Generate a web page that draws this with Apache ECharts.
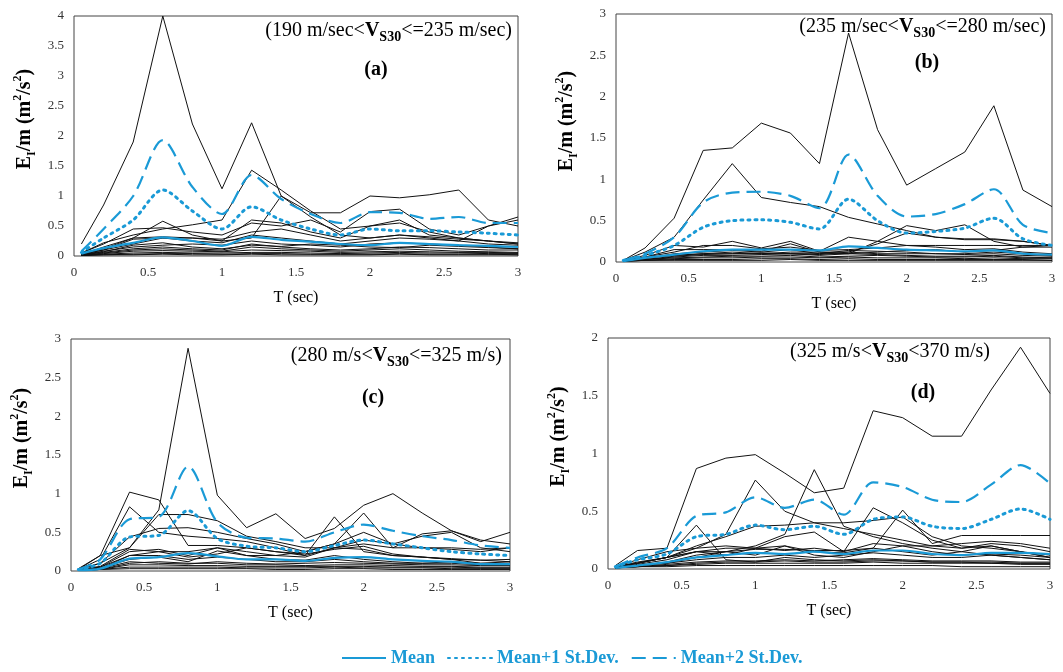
<!DOCTYPE html>
<html>
<head>
<meta charset="utf-8">
<script src="https://cdn.jsdelivr.net/npm/echarts@6/dist/echarts.min.js"></script>
<style>
  html, body { margin: 0; padding: 0; background: #fff; }
  #main { width: 1063px; height: 672px; }
</style>
</head>
<body>
<div id="main"></div>
<script>
// periods T (sec)
var periods = [0.05, 0.2, 0.4, 0.6, 0.8, 1.0, 1.2, 1.4, 1.6, 1.8, 2.0, 2.2, 2.4, 2.6, 2.8, 3.0];

// (a) 190 < Vs30 <= 235
var recordsA = [
    [0.2, 0.85, 1.9, 4.0, 2.2, 1.12, 2.22, 1.0, 0.72, 0.72, 1.0, 0.97, 1.02, 1.1, 0.6, 0.5],
    [0.05, 0.22, 0.35, 0.45, 0.52, 0.6, 1.43, 1.1, 0.75, 0.45, 0.5, 0.55, 0.4, 0.3, 0.25, 0.2],
    [0.03, 0.1, 0.2, 0.3, 0.3, 0.25, 0.3, 1.0, 0.65, 0.35, 0.3, 0.35, 0.3, 0.25, 0.5, 0.65],
    [0.02, 0.15, 0.3, 0.58, 0.35, 0.25, 0.6, 0.55, 0.4, 0.3, 0.5, 0.6, 0.35, 0.3, 0.25, 0.2],
    [0.05, 0.2, 0.45, 0.47, 0.4, 0.35, 0.55, 0.5, 0.6, 0.4, 0.74, 0.78, 0.45, 0.35, 0.5, 0.6],
    [0.02, 0.08, 0.15, 0.18, 0.2, 0.18, 0.25, 0.2, 0.18, 0.15, 0.2, 0.22, 0.2, 0.18, 0.15, 0.12],
    [0.01, 0.05, 0.1, 0.12, 0.1, 0.08, 0.15, 0.12, 0.1, 0.08, 0.1, 0.12, 0.1, 0.08, 0.07, 0.06],
    [0.01, 0.03, 0.05, 0.06, 0.05, 0.05, 0.06, 0.06, 0.05, 0.04, 0.05, 0.06, 0.05, 0.05, 0.04, 0.04],
    [0.03, 0.1, 0.28, 0.3, 0.25, 0.22, 0.35, 0.3, 0.25, 0.2, 0.25, 0.3, 0.28, 0.25, 0.2, 0.18],
    [0.01, 0.02, 0.03, 0.04, 0.04, 0.03, 0.04, 0.04, 0.03, 0.03, 0.03, 0.04, 0.03, 0.03, 0.03, 0.02],
    [0.02, 0.06, 0.12, 0.15, 0.12, 0.1, 0.2, 0.15, 0.12, 0.1, 0.12, 0.15, 0.14, 0.12, 0.1, 0.1],
    [0.01, 0.04, 0.08, 0.09, 0.08, 0.07, 0.1, 0.09, 0.08, 0.06, 0.07, 0.08, 0.07, 0.06, 0.06, 0.05],
    [0.02, 0.12, 0.3, 0.32, 0.3, 0.28, 0.4, 0.45, 0.35, 0.25, 0.3, 0.35, 0.32, 0.28, 0.25, 0.22],
    [0.01, 0.02, 0.02, 0.03, 0.02, 0.02, 0.03, 0.02, 0.02, 0.02, 0.02, 0.03, 0.02, 0.02, 0.02, 0.02],
    [0.02, 0.07, 0.18, 0.22, 0.15, 0.12, 0.18, 0.16, 0.2, 0.18, 0.15, 0.14, 0.18, 0.16, 0.14, 0.12]
];
var meanA = [0.04, 0.13, 0.22, 0.31, 0.25, 0.17, 0.32, 0.27, 0.24, 0.2, 0.18, 0.22, 0.2, 0.18, 0.17, 0.15];
var sd1A = [0.06, 0.3, 0.6, 1.1, 0.75, 0.45, 0.82, 0.6, 0.45, 0.35, 0.45, 0.42, 0.42, 0.4, 0.38, 0.35];
var sd2A = [0.08, 0.45, 1.0, 1.93, 1.15, 0.7, 1.35, 0.95, 0.7, 0.55, 0.73, 0.72, 0.62, 0.65, 0.55, 0.55];

// (b) 235 < Vs30 <= 280
var recordsB = [
    [0.02, 0.17, 0.53, 1.35, 1.38, 1.68, 1.56, 1.19, 2.77, 1.6, 0.93, 1.13, 1.33, 1.89, 0.87, 0.67],
    [0.02, 0.12, 0.3, 0.75, 1.19, 0.78, 0.72, 0.67, 0.54, 0.46, 0.38, 0.3, 0.27, 0.27, 0.25, 0.2],
    [0.02, 0.08, 0.2, 0.18, 0.25, 0.17, 0.25, 0.13, 0.3, 0.25, 0.2, 0.2, 0.2, 0.2, 0.2, 0.2],
    [0.01, 0.05, 0.08, 0.1, 0.1, 0.1, 0.1, 0.1, 0.1, 0.25, 0.44, 0.38, 0.45, 0.25, 0.18, 0.2],
    [0.01, 0.06, 0.15, 0.15, 0.15, 0.13, 0.22, 0.12, 0.12, 0.22, 0.35, 0.3, 0.28, 0.28, 0.25, 0.2],
    [0.01, 0.03, 0.06, 0.08, 0.08, 0.09, 0.1, 0.08, 0.1, 0.09, 0.08, 0.07, 0.07, 0.08, 0.06, 0.05],
    [0.01, 0.02, 0.04, 0.05, 0.05, 0.06, 0.06, 0.05, 0.06, 0.05, 0.05, 0.05, 0.04, 0.05, 0.04, 0.04],
    [0.01, 0.04, 0.1, 0.12, 0.14, 0.12, 0.15, 0.1, 0.14, 0.13, 0.12, 0.1, 0.1, 0.12, 0.1, 0.08],
    [0.01, 0.02, 0.03, 0.03, 0.03, 0.04, 0.04, 0.03, 0.04, 0.03, 0.03, 0.03, 0.03, 0.03, 0.03, 0.02],
    [0.02, 0.06, 0.12, 0.2, 0.2, 0.16, 0.18, 0.14, 0.15, 0.17, 0.2, 0.18, 0.15, 0.16, 0.12, 0.1],
    [0.01, 0.03, 0.05, 0.06, 0.07, 0.07, 0.08, 0.06, 0.07, 0.08, 0.07, 0.06, 0.06, 0.07, 0.05, 0.05],
    [0.01, 0.02, 0.02, 0.02, 0.02, 0.02, 0.03, 0.02, 0.02, 0.02, 0.02, 0.02, 0.02, 0.02, 0.02, 0.02],
    [0.01, 0.05, 0.08, 0.1, 0.12, 0.1, 0.12, 0.12, 0.1, 0.12, 0.14, 0.15, 0.12, 0.14, 0.18, 0.18],
    [0.01, 0.03, 0.07, 0.09, 0.1, 0.11, 0.1, 0.09, 0.12, 0.1, 0.1, 0.1, 0.09, 0.1, 0.08, 0.07]
];
var meanB = [0.01, 0.05, 0.09, 0.13, 0.15, 0.15, 0.15, 0.14, 0.19, 0.17, 0.15, 0.14, 0.13, 0.14, 0.1, 0.09];
var sd1B = [0.02, 0.08, 0.2, 0.42, 0.5, 0.51, 0.48, 0.4, 0.76, 0.5, 0.35, 0.37, 0.41, 0.53, 0.28, 0.2];
var sd2B = [0.02, 0.1, 0.3, 0.72, 0.84, 0.85, 0.8, 0.65, 1.3, 0.8, 0.55, 0.58, 0.7, 0.88, 0.45, 0.35];

// (c) 280 < Vs30 <= 325
var recordsC = [
    [0.02, 0.2, 0.3, 0.79, 2.88, 0.98, 0.56, 0.74, 0.42, 0.55, 0.85, 1.0, 0.75, 0.52, 0.38, 0.5],
    [0.03, 0.2, 1.02, 0.92, 0.33, 0.33, 0.3, 0.25, 0.2, 0.3, 0.4, 0.35, 0.3, 0.28, 0.25, 0.3],
    [0.02, 0.15, 0.83, 0.5, 0.45, 0.42, 0.38, 0.3, 0.2, 0.7, 0.25, 0.2, 0.18, 0.15, 0.1, 0.12],
    [0.02, 0.1, 0.3, 0.73, 0.73, 0.65, 0.45, 0.38, 0.3, 0.3, 0.35, 0.3, 0.3, 0.3, 0.28, 0.3],
    [0.02, 0.1, 0.44, 0.55, 0.56, 0.5, 0.42, 0.35, 0.25, 0.35, 0.5, 0.35, 0.45, 0.5, 0.3, 0.25],
    [0.01, 0.05, 0.2, 0.25, 0.25, 0.3, 0.2, 0.2, 0.25, 0.35, 0.75, 0.3, 0.48, 0.52, 0.4, 0.35],
    [0.01, 0.03, 0.2, 0.2, 0.15, 0.18, 0.15, 0.12, 0.12, 0.15, 0.12, 0.1, 0.1, 0.1, 0.08, 0.08],
    [0.01, 0.02, 0.1, 0.12, 0.1, 0.1, 0.08, 0.08, 0.07, 0.08, 0.08, 0.07, 0.06, 0.06, 0.05, 0.05],
    [0.01, 0.02, 0.05, 0.05, 0.05, 0.05, 0.04, 0.04, 0.04, 0.05, 0.04, 0.04, 0.04, 0.03, 0.03, 0.03],
    [0.02, 0.05, 0.25, 0.28, 0.2, 0.3, 0.25, 0.2, 0.18, 0.3, 0.28, 0.2, 0.18, 0.15, 0.14, 0.12],
    [0.01, 0.02, 0.03, 0.03, 0.03, 0.03, 0.03, 0.02, 0.02, 0.03, 0.03, 0.02, 0.02, 0.02, 0.02, 0.02],
    [0.01, 0.04, 0.15, 0.18, 0.12, 0.26, 0.2, 0.15, 0.14, 0.2, 0.15, 0.12, 0.1, 0.12, 0.1, 0.1],
    [0.01, 0.02, 0.08, 0.08, 0.07, 0.07, 0.06, 0.06, 0.06, 0.06, 0.06, 0.05, 0.05, 0.05, 0.04, 0.04],
    [0.02, 0.06, 0.28, 0.25, 0.18, 0.22, 0.3, 0.25, 0.22, 0.28, 0.32, 0.22, 0.18, 0.16, 0.14, 0.15],
    [0.01, 0.03, 0.12, 0.1, 0.09, 0.12, 0.1, 0.09, 0.1, 0.11, 0.1, 0.09, 0.08, 0.08, 0.07, 0.07]
];
var meanC = [0.01, 0.03, 0.16, 0.18, 0.23, 0.19, 0.15, 0.15, 0.13, 0.17, 0.18, 0.15, 0.13, 0.12, 0.09, 0.09];
var sd1C = [0.02, 0.1, 0.44, 0.46, 0.78, 0.42, 0.32, 0.3, 0.25, 0.33, 0.4, 0.35, 0.3, 0.25, 0.22, 0.2];
var sd2C = [0.02, 0.15, 0.67, 0.7, 1.35, 0.63, 0.43, 0.42, 0.38, 0.5, 0.6, 0.52, 0.45, 0.4, 0.33, 0.3];

// (d) 325 < Vs30 < 370
var recordsD = [
    [0.03, 0.16, 0.18, 0.87, 0.96, 0.99, 0.83, 0.66, 0.7, 1.37, 1.31, 1.15, 1.15, 1.55, 1.92, 1.52],
    [0.02, 0.08, 0.15, 0.18, 0.3, 0.77, 0.5, 0.4, 0.35, 0.3, 0.25, 0.2, 0.18, 0.2, 0.15, 0.1],
    [0.02, 0.05, 0.1, 0.15, 0.15, 0.2, 0.3, 0.86, 0.37, 0.28, 0.22, 0.18, 0.15, 0.12, 0.1, 0.08],
    [0.02, 0.06, 0.1, 0.38, 0.08, 0.06, 0.1, 0.08, 0.07, 0.08, 0.07, 0.06, 0.06, 0.05, 0.05, 0.05],
    [0.02, 0.05, 0.1, 0.2, 0.28, 0.37, 0.38, 0.4, 0.4, 0.42, 0.45, 0.28, 0.2, 0.18, 0.15, 0.12],
    [0.02, 0.05, 0.1, 0.15, 0.12, 0.18, 0.28, 0.32, 0.15, 0.53, 0.4, 0.25, 0.18, 0.22, 0.2, 0.15],
    [0.01, 0.03, 0.05, 0.1, 0.15, 0.17, 0.17, 0.16, 0.16, 0.18, 0.51, 0.22, 0.29, 0.29, 0.29, 0.29],
    [0.01, 0.03, 0.05, 0.08, 0.1, 0.1, 0.12, 0.1, 0.12, 0.14, 0.12, 0.1, 0.1, 0.12, 0.1, 0.08],
    [0.01, 0.02, 0.03, 0.04, 0.05, 0.05, 0.05, 0.05, 0.05, 0.06, 0.05, 0.05, 0.05, 0.05, 0.04, 0.04],
    [0.01, 0.04, 0.08, 0.15, 0.18, 0.18, 0.2, 0.15, 0.14, 0.18, 0.15, 0.12, 0.15, 0.2, 0.15, 0.1],
    [0.01, 0.02, 0.02, 0.03, 0.03, 0.03, 0.03, 0.03, 0.03, 0.03, 0.03, 0.03, 0.02, 0.02, 0.02, 0.02],
    [0.01, 0.03, 0.06, 0.12, 0.15, 0.12, 0.2, 0.12, 0.1, 0.15, 0.2, 0.15, 0.12, 0.13, 0.12, 0.1],
    [0.01, 0.02, 0.04, 0.06, 0.07, 0.07, 0.08, 0.07, 0.08, 0.09, 0.08, 0.07, 0.07, 0.07, 0.06, 0.06],
    [0.01, 0.02, 0.03, 0.05, 0.06, 0.06, 0.07, 0.06, 0.06, 0.07, 0.07, 0.06, 0.06, 0.06, 0.05, 0.05],
    [0.02, 0.05, 0.1, 0.18, 0.2, 0.18, 0.16, 0.18, 0.15, 0.22, 0.2, 0.2, 0.22, 0.24, 0.22, 0.18]
];
var meanD = [0.01, 0.03, 0.06, 0.1, 0.12, 0.14, 0.13, 0.15, 0.13, 0.16, 0.16, 0.13, 0.12, 0.14, 0.14, 0.13];
var sd1D = [0.02, 0.08, 0.13, 0.28, 0.3, 0.38, 0.34, 0.37, 0.3, 0.43, 0.45, 0.37, 0.35, 0.43, 0.52, 0.43];
var sd2D = [0.02, 0.1, 0.18, 0.46, 0.49, 0.62, 0.53, 0.6, 0.47, 0.75, 0.71, 0.6, 0.58, 0.73, 0.9, 0.74];

var yMax = [4, 3, 3, 2];
var rangeText = [
    '(190 m/sec<{b|V}{s|S30}<=235 m/sec)',
    '(235 m/sec<{b|V}{s|S30}<=280 m/sec)',
    '(280 m/s<{b|V}{s|S30}<=325 m/s)',
    '(325 m/s<{b|V}{s|S30}<370 m/s)'
];
var panelLetters = ['(a)', '(b)', '(c)', '(d)'];
var legendNames = ['Mean', 'Mean+1 St.Dev.', 'Mean+2 St.Dev.'];

var blue = '#1a9ad6';
var serif = '"Liberation Serif", "Times New Roman", serif';

function pairs(vals) {
    return vals.map(function (v, i) {
        return [periods[i], v];
    });
}

function showChart() {
    var myChart = echarts.init(document.getElementById('main'));

    var panels = [
        { rec: recordsA, mean: meanA, sd1: sd1A, sd2: sd2A, grid: { left: 74, top: 16, width: 444, height: 240 } },
        { rec: recordsB, mean: meanB, sd1: sd1B, sd2: sd2B, grid: { left: 616, top: 14, width: 436, height: 248 } },
        { rec: recordsC, mean: meanC, sd1: sd1C, sd2: sd2C, grid: { left: 71, top: 339, width: 439, height: 232 } },
        { rec: recordsD, mean: meanD, sd1: sd1D, sd2: sd2D, grid: { left: 608, top: 338, width: 442, height: 231 } }
    ];
    // where the range label (right edge) and the panel letter (center) sit
    var labelPos = [
        { x: 512, y: 31, lx: 376, ly: 70 },
        { x: 1046, y: 27, lx: 927, ly: 63 },
        { x: 502, y: 356, lx: 373, ly: 398 },
        { x: 990, y: 352, lx: 923, ly: 393 }
    ];

    var grids = [], xAxes = [], yAxes = [], series = [], graphics = [];

    panels.forEach(function (p, k) {
        grids.push({
            left: p.grid.left, top: p.grid.top, width: p.grid.width, height: p.grid.height,
            show: true, borderColor: '#444', borderWidth: 1, backgroundColor: 'transparent'
        });
        xAxes.push({
            type: 'value', gridIndex: k, min: 0, max: 3, interval: 0.5,
            name: 'T (sec)', nameLocation: 'middle', nameGap: 34,
            nameTextStyle: { fontFamily: serif, fontSize: 16, color: '#000' },
            axisLine: { show: false }, axisTick: { show: false }, splitLine: { show: false },
            axisLabel: { fontFamily: serif, fontSize: 13, color: '#333', margin: 10 }
        });
        yAxes.push({
            type: 'value', gridIndex: k, min: 0, max: yMax[k], interval: 0.5,
            name: 'E{sub|I}/m (m{sup|2}/s{sup|2})', nameLocation: 'middle', nameGap: 36,
            nameTextStyle: {
                fontFamily: serif, fontSize: 20, fontWeight: 'bold', color: '#000', lineHeight: 26,
                padding: [0, 0, 0, 34],
                rich: {
                    sub: { fontFamily: serif, fontSize: 12, fontWeight: 'bold', verticalAlign: 'bottom', lineHeight: 12 },
                    sup: { fontFamily: serif, fontSize: 12, fontWeight: 'bold', verticalAlign: 'top', lineHeight: 14 }
                }
            },
            axisLine: { show: false }, axisTick: { show: false }, splitLine: { show: false },
            axisLabel: { fontFamily: serif, fontSize: 13, color: '#333', margin: 10 }
        });

        p.rec.forEach(function (r) {
            series.push({
                type: 'line', xAxisIndex: k, yAxisIndex: k, data: pairs(r),
                symbol: 'none', silent: true,
                lineStyle: { color: '#111', width: 1 }
            });
        });
        series.push({
            name: legendNames[0], type: 'line', xAxisIndex: k, yAxisIndex: k, data: pairs(p.mean),
            symbol: 'none', smooth: 0.3, z: 5, itemStyle: { color: blue },
            lineStyle: { color: blue, width: 2.2 }
        });
        series.push({
            name: legendNames[1], type: 'line', xAxisIndex: k, yAxisIndex: k, data: pairs(p.sd1),
            symbol: 'none', smooth: 0.3, z: 5, itemStyle: { color: blue },
            lineStyle: { color: blue, width: 3, type: [2, 5], cap: 'round' }
        });
        series.push({
            name: legendNames[2], type: 'line', xAxisIndex: k, yAxisIndex: k, data: pairs(p.sd2),
            symbol: 'none', smooth: 0.3, z: 5, itemStyle: { color: blue },
            lineStyle: { color: blue, width: 2.2, type: [14, 7] }
        });

        var lp = labelPos[k];
        graphics.push({
            type: 'text', x: lp.x, y: lp.y, z: 10,
            style: {
                text: rangeText[k], align: 'right', verticalAlign: 'middle',
                fontFamily: serif, fontSize: 20, fill: '#000', lineHeight: 26,
                rich: {
                    b: { fontFamily: serif, fontSize: 20, fontWeight: 'bold', lineHeight: 26, verticalAlign: 'middle' },
                    s: { fontFamily: serif, fontSize: 14, fontWeight: 'bold', lineHeight: 14, verticalAlign: 'bottom' }
                }
            }
        });
        graphics.push({
            type: 'text', x: lp.lx, y: lp.ly, z: 10,
            style: {
                text: panelLetters[k], align: 'center', verticalAlign: 'middle',
                fontFamily: serif, fontSize: 20, fontWeight: 'bold', fill: '#000'
            }
        });
    });

    myChart.setOption({
        animation: false,
        grid: grids,
        xAxis: xAxes,
        yAxis: yAxes,
        legend: {
            data: legendNames, left: 336, bottom: 0,
            itemWidth: 44, itemHeight: 14, itemGap: 12,
            itemStyle: { opacity: 0 },
            textStyle: { fontFamily: serif, fontSize: 18, fontWeight: 'bold', color: blue }
        },
        graphic: graphics,
        series: series
    });
}

showChart();
</script>
</body>
</html>
